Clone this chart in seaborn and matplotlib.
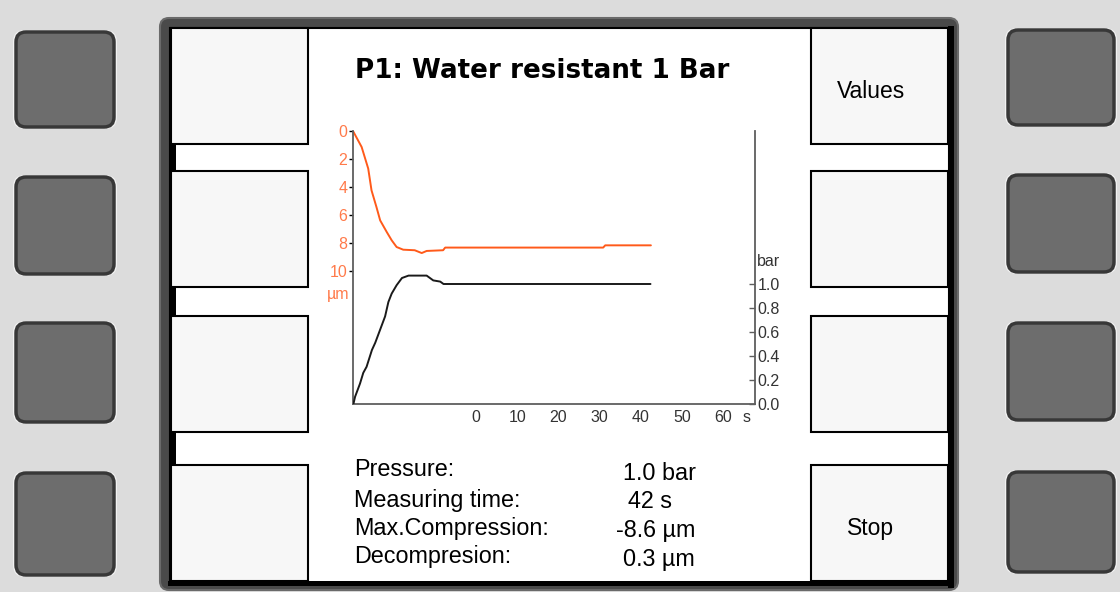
import matplotlib
matplotlib.use("Agg")
import matplotlib.pyplot as plt
from matplotlib.patches import FancyBboxPatch, Rectangle
import seaborn as sns

depth_time = [-29.9, -27.8, -26.2, -25.4, -24.2, -23.3, -21.7, -20.5, -19.3, -17.7,
              -14.9, -13.2, -12.0, -8.0, -7.5, 30.9, 31.4, 42.5]
depth_um = [0.0, 1.14, 2.68, 4.23, 5.42, 6.37, 7.2, 7.79, 8.27, 8.46,
            8.5, 8.7, 8.55, 8.5, 8.31, 8.31, 8.15, 8.15]

pressure_time = [-29.8, -29.4, -28.2, -27.4, -26.6, -25.3, -24.5, -23.3, -22.1, -21.3,
                 -20.5, -19.3, -18.0, -16.4, -12.0, -10.4, -8.7, -7.9, 42.4]
pressure_bar = [0.0, 0.06, 0.17, 0.26, 0.31, 0.45, 0.51, 0.62, 0.73, 0.85,
                0.92, 0.99, 1.05, 1.07, 1.07, 1.03, 1.02, 1.0, 1.0]

time_ticks = [0, 10, 20, 30, 40, 50, 60]
depth_ticks = [0, 2, 4, 6, 8, 10]
pressure_ticks = [0.0, 0.2, 0.4, 0.6, 0.8, 1.0]

title = "P1: Water resistant 1 Bar"
stat_names = ["Pressure:", "Measuring time:", "Max.Compression:", "Decompresion:"]
stat_values = ["1.0 bar", "42 s", "-8.6 µm", "0.3 µm"]
right_keys = ["Values", "", "", "Stop"]

ORANGE = "#ff5a1a"
ORANGE_TXT = "#ff7a4a"
AXIS_GREY = "#5e5e5e"

sns.set_style("white")
plt.rcParams["font.family"] = ["Liberation Sans", "DejaVu Sans"]

fig = plt.figure(figsize=(11.2, 5.92), dpi=100, facecolor="#dcdcdc")

# background axes in pixel coordinates for the device frame
bg = fig.add_axes([0, 0, 1, 1], zorder=0)
bg.set_xlim(0, 1120)
bg.set_ylim(592, 0)
bg.axis("off")

# hardware buttons
rows_left = [(32, 127), (177, 274), (323, 422), (473, 575)]
rows_right = [(30, 125), (175, 272), (323, 420), (472, 572)]
for (y0, y1) in rows_left:
    bg.add_patch(FancyBboxPatch((13, y0 - 2), 104, y1 - y0 + 4, boxstyle="round,pad=0,rounding_size=12",
                                fc="#f2f2f2", ec="none"))
    bg.add_patch(FancyBboxPatch((16, y0), 98, y1 - y0, boxstyle="round,pad=0,rounding_size=10",
                                fc="#6d6d6d", ec="#383838", lw=2.5))
for (y0, y1) in rows_right:
    bg.add_patch(FancyBboxPatch((1005, y0 - 2), 112, y1 - y0 + 4, boxstyle="round,pad=0,rounding_size=12",
                                fc="#f2f2f2", ec="none"))
    bg.add_patch(FancyBboxPatch((1008, y0), 106, y1 - y0, boxstyle="round,pad=0,rounding_size=10",
                                fc="#6d6d6d", ec="#383838", lw=2.5))

# display bezel and screen
bg.add_patch(FancyBboxPatch((160, 18), 798, 572, boxstyle="round,pad=0,rounding_size=9",
                            fc="#4a4a4a", ec="#6a6a6a", lw=1.5))
bg.add_patch(Rectangle((170, 28), 779, 555, fc="white", ec="black", lw=1.5))
bg.add_patch(Rectangle((948, 26), 6, 562, fc="black", ec="none"))
bg.add_patch(Rectangle((168, 581), 786, 5, fc="black", ec="none"))

# soft key boxes
key_rows = [(28, 144), (171, 287), (316, 432), (465, 581)]
for (y0, y1) in key_rows:
    bg.add_patch(Rectangle((171, y0), 137, y1 - y0, fc="#f7f7f7", ec="black", lw=1.5))
    bg.add_patch(Rectangle((811, y0), 137, y1 - y0, fc="#f7f7f7", ec="black", lw=1.5))
for (y0, y1) in zip([144, 287, 432], [171, 316, 465]):
    bg.add_patch(Rectangle((171, y0), 5, y1 - y0, fc="black", ec="none"))

for (y0, y1), label in zip(key_rows, right_keys):
    if label:
        bg.text(871, (y0 + y1) / 2 + 6, label, ha="center", va="center", fontsize=16.5, color="black")

bg.text(542, 78, title, ha="center", va="baseline", fontsize=18.8, fontweight="bold",
        family=["DejaVu Sans"], color="black")

name_base = [476, 507, 535, 563]
value_base = [480, 508, 537, 566]
value_x = [623, 628, 616, 623]
for name, val, yb, yv, xv in zip(stat_names, stat_values, name_base, value_base, value_x):
    bg.text(354, yb, name, ha="left", va="baseline", fontsize=16.8, color="black")
    bg.text(xv, yv, val, ha="left", va="baseline", fontsize=16.8, color="black")

# chart area: left 353, right 755, top 131, bottom 404 (pixels)
ax = fig.add_axes([353 / 1120, 1 - 404 / 592, 402 / 1120, 273 / 592], zorder=2)
ax.set_facecolor("white")
sns.lineplot(x=depth_time, y=depth_um, ax=ax, color=ORANGE, linewidth=1.4,
             estimator=None, sort=False)
ax.set_xlim(-29.9, 67.8)
ax.set_ylim(19.46, 0)
ax.set_xticks(time_ticks)
ax.set_xticklabels([str(t) for t in time_ticks])
ax.set_yticks(depth_ticks)
ax.set_yticklabels([str(d) for d in depth_ticks])
ax.tick_params(axis="y", direction="out", length=3, width=1, color="black",
               labelcolor=ORANGE_TXT, labelsize=11.5, pad=1)
ax.tick_params(axis="x", direction="in", length=4, width=1, color=AXIS_GREY,
               labelcolor="#333333", labelsize=11.5, pad=4)
for side in ["top", "right"]:
    ax.spines[side].set_visible(False)
for side in ["left", "bottom"]:
    ax.spines[side].set_color(AXIS_GREY)
    ax.spines[side].set_linewidth(1.3)
ax.set_xlabel("")
ax.set_ylabel("")

ax2 = ax.twinx()
sns.lineplot(x=pressure_time, y=pressure_bar, ax=ax2, color="#1a1a1a", linewidth=1.4,
             estimator=None, sort=False)
ax2.set_ylim(0, 2.275)
ax2.set_yticks(pressure_ticks)
ax2.set_yticklabels([f"{p:.1f}" for p in pressure_ticks])
ax2.tick_params(axis="y", direction="in", length=4, width=1, color=AXIS_GREY,
                labelcolor="#333333", labelsize=11.5, pad=2)
for side in ["top", "left", "bottom"]:
    ax2.spines[side].set_visible(False)
ax2.spines["right"].set_color(AXIS_GREY)
ax2.spines["right"].set_linewidth(1.3)
ax2.set_ylabel("")

# unit labels
bg.text(349, 295, "µm", ha="right", va="center", fontsize=11.5, color=ORANGE_TXT)
bg.text(757, 262, "bar", ha="left", va="center", fontsize=11.5, color="#333333")
bg.text(747, 417, "s", ha="center", va="center", fontsize=11.5, color="#333333")

fig.savefig("out.png", dpi=100)
